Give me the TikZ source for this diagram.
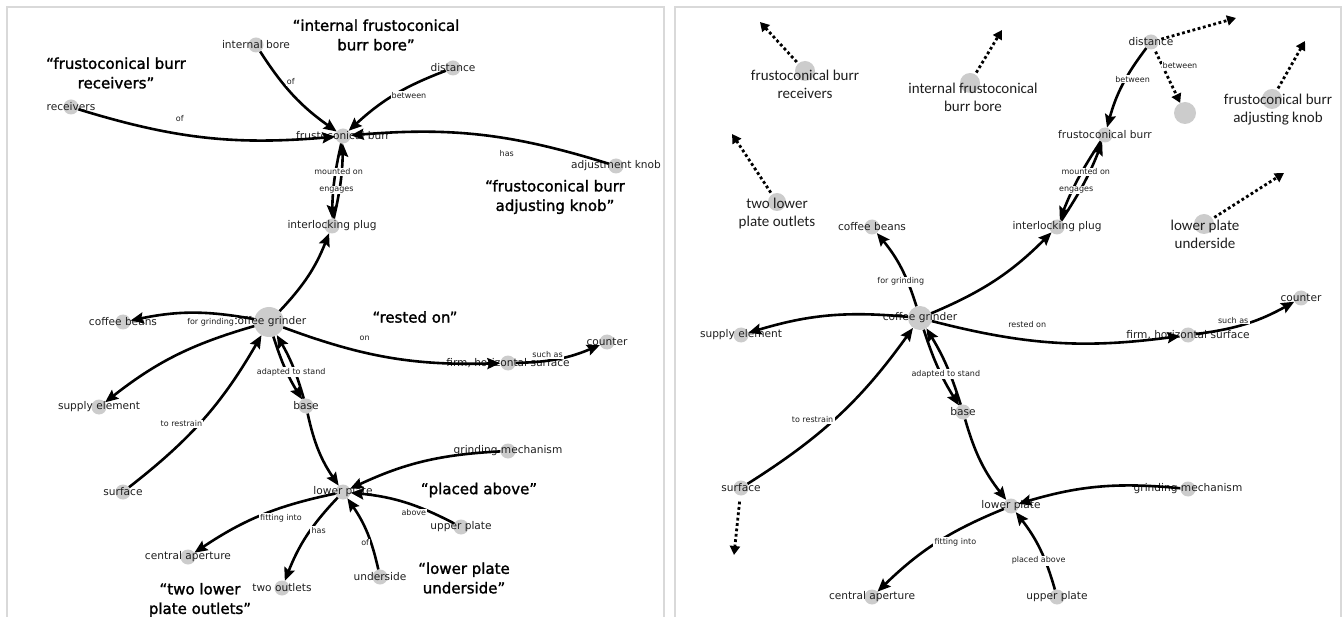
\documentclass[tikz,border=0pt]{standalone}
\usepackage{fontspec}
\setmainfont{DejaVu Sans}
\newfontfamily\carlfont{Carlito}
\newfontfamily\qfont[FakeBold=1.6]{DejaVu Sans}
\usetikzlibrary{arrows.meta,calc}
\begin{document}
\begin{tikzpicture}[x=1pt,y=-1pt,
  gdot/.style={circle,fill=gray!40,draw=none,inner sep=0pt,minimum size=#1},
  gdot/.default=15pt,
  nl/.style={font=\fontsize{10.6}{12}\selectfont,text=black!88,inner sep=0pt},
  el/.style={font=\fontsize{8}{9}\selectfont,text=black!88,fill=white,inner sep=1.2pt},
  rel/.style={line width=2.6pt,-{Stealth[length=13pt,width=11pt,inset=2pt]}},
  dotarr/.style={line width=2.8pt,dash pattern=on 2.8pt off 2.6pt,-{Triangle[length=9pt,width=10pt]}},
  qt/.style={font={\qfont\fontsize{15}{19.5}\selectfont},align=center,text=black},
  bl/.style={font={\carlfont\fontsize{15}{18}\selectfont},align=center,text=black!88},
  pan/.style={draw=gray!30,line width=1.5pt},
  bd/.style={bend right=11}
]
\useasboundingbox (0,0) rectangle (1343,617);
\fill[white] (0,0) rectangle (1343,617);
\draw[pan] (7,7) rectangle (664,640);
\draw[pan] (675,7) rectangle (1341,640);

% ---------------- left panel ----------------
\node[gdot] (ib) at (256,45) {};
\node[gdot] (rc) at (71,107) {};
\node[gdot] (fb) at (343,136) {};
\node[gdot] (ds) at (453,68) {};
\node[gdot] (ak) at (616,166) {};
\node[gdot] (pl) at (332,226) {};
\node[gdot=30pt] (cg) at (269,322) {};
\node[gdot] (cb) at (123,322) {};
\node[gdot] (se) at (99,407) {};
\node[gdot] (bs) at (306,406) {};
\node[gdot] (fh) at (508,363) {};
\node[gdot] (ct) at (607,342) {};
\node[gdot] (sf) at (123,492) {};
\node[gdot] (lp) at (343,492) {};
\node[gdot] (gm) at (508,451) {};
\node[gdot] (up) at (461,527) {};
\node[gdot] (us) at (380,577) {};
\node[gdot] (ca) at (188,557) {};
\node[gdot] (to) at (282,588) {};

\node[nl] (ib-t) at (ib) {internal bore};
\node[nl] (rc-t) at (rc) {receivers};
\node[nl] (fb-t) at (fb) {frustoconical burr};
\node[nl] (ds-t) at (ds) {distance};
\node[nl] (ak-t) at (ak) {adjustment knob};
\node[nl] (pl-t) at (pl) {interlocking plug};
\node[nl] (cg-t) at (cg) {coffee grinder};
\node[nl] (cb-t) at (cb) {coffee beans};
\node[nl] (se-t) at (se) {supply element};
\node[nl] (bs-t) at (bs) {base};
\node[nl] (fh-t) at (fh) {firm, horizontal surface};
\node[nl] (ct-t) at (ct) {counter};
\node[nl] (sf-t) at (sf) {surface};
\node[nl] (lp-t) at (lp) {lower plate};
\node[nl] (gm-t) at (gm) {grinding mechanism};
\node[nl] (up-t) at (up) {upper plate};
\node[nl] (us-t) at (us) {underside};
\node[nl] (ca-t) at (ca) {central aperture};
\node[nl] (to-t) at (to) {two outlets};

\draw[rel] (ib) to[bd] (fb);
\draw[rel] (rc) to[bd] (fb);
\draw[rel] (ds) to[bd] (fb);
\draw[rel] (ak) to[bd] (fb);
\draw[rel] (fb) to[bend right=6] (pl);
\draw[rel] (pl) to[bend right=6] (fb);
\draw[rel] (cg) to[bd] (pl);
\draw[rel] (cg) to[bd] (cb);
\draw[rel] (cg) to[bd] (se);
\draw[rel] (cg) to[bd] (fh);
\draw[rel] (fh) to[bd] (ct);
\draw[rel] (cg) to[bend right=7] (bs);
\draw[rel] (bs) to[bend right=7] (cg);
\draw[rel] (sf) to[bd] (cg);
\draw[rel] (bs) to[bd] (lp);
\draw[rel] (gm) to[bd] (lp);
\draw[rel] (up) to[bd] (lp);
\draw[rel] (us) to[bd] (lp);
\draw[rel] (lp) to[bd] (ca);
\draw[rel] (lp) to[bd] (to);

\node[el] (l1) at ($(ib)!0.4!(fb)$) {of};
\node[el] (l2) at ($(rc)!0.4!(fb)$) {of};
\node[el] (l3) at ($(ds)!0.4!(fb)$) {between};
\node[el] (l4) at ($(ak)!0.4!(fb)$) {has};
\node[el] (l5) at ($(fb)!0.4!(pl)$) {mounted on};
\node[el] (l6) at ($(pl)!0.4!(fb)$) {engages};
\node[el] (l7) at ($(cg)!0.4!(cb)$) {for grinding};
\node[el] (l8) at ($(cg)!0.4!(fh)$) {on};
\node[el] (l9) at ($(fh)!0.4!(ct)$) {such as};
\node[el] (l10) at ($(bs)!0.4!(cg)$) {adapted to stand};
\node[el] (l11) at ($(sf)!0.4!(cg)$) {to restrain};
\node[el] (l12) at ($(lp)!0.4!(ca)$) {fitting into};
\node[el] (l13) at ($(lp)!0.4!(to)$) {has};
\node[el] (l14) at ($(up)!0.4!(lp)$) {above};
\node[el] (l15) at ($(us)!0.4!(lp)$) {of};

\node[qt] (q1) at (116,73) {“frustoconical burr\\receivers”};
\node[qt] (q2) at (376,35) {“internal frustoconical\\burr bore”};
\node[qt] (q3) at (555,197) {“frustoconical burr\\adjusting knob”};
\node[qt] (q4) at (415,317) {“rested on”};
\node[qt] (q5) at (479,490) {“placed above”};
\node[qt] (q6) at (464,578) {“lower plate\\underside”};
\node[qt] (q7) at (200,600) {“two lower\\plate outlets”};

% ---------------- right panel ----------------
\node[gdot=20pt] (rrec) at (805,71) {};
\node[gdot=20pt] (rint) at (970,83) {};
\node[gdot=18pt] (rtwo) at (777,202) {};
\node[gdot] (rds) at (1151,42) {};
\node[gdot=22pt] (rblank) at (1185,113) {};
\node[gdot] (rfb) at (1105,135) {};
\node[gdot=20pt] (rak) at (1272,99) {};
\node[gdot] (rpl) at (1057,227) {};
\node[gdot=20pt] (rlu) at (1204,224) {};
\node[gdot] (rcb) at (872,227) {};
\node[gdot=24pt] (rcg) at (920,318) {};
\node[gdot] (rse) at (741,335) {};
\node[gdot] (rfh) at (1188,335) {};
\node[gdot] (rct) at (1301,298) {};
\node[gdot] (rbs) at (963,412) {};
\node[gdot] (rsf) at (741,488) {};
\node[gdot] (rlp) at (1011,506) {};
\node[gdot] (rgm) at (1188,489) {};
\node[gdot] (rca) at (872,597) {};
\node[gdot] (rup) at (1057,597) {};

\node[bl] (rrec-t) at (805,84) {frustoconical burr\\receivers};
\node[bl] (rint-t) at (973,97) {internal frustoconical\\burr bore};
\node[bl] (rtwo-t) at (777,214) {two lower\\plate outlets};
\node[bl] (rak-t) at (1278,110) {frustoconical burr\\adjusting knob};
\node[bl] (rlu-t) at (1205,234) {lower plate\\underside};

\node[nl] (rds-t) at (rds) {distance};
\node[nl] (rfb-t) at (rfb) {frustoconical burr};
\node[nl] (rpl-t) at (rpl) {interlocking plug};
\node[nl] (rcb-t) at (rcb) {coffee beans};
\node[nl] (rcg-t) at (rcg) {coffee grinder};
\node[nl] (rse-t) at (rse) {supply element};
\node[nl] (rfh-t) at (rfh) {firm, horizontal surface};
\node[nl] (rct-t) at (rct) {counter};
\node[nl] (rbs-t) at (rbs) {base};
\node[nl] (rsf-t) at (rsf) {surface};
\node[nl] (rlp-t) at (rlp) {lower plate};
\node[nl] (rgm-t) at (rgm) {grinding mechanism};
\node[nl] (rca-t) at (rca) {central aperture};
\node[nl] (rup-t) at (rup) {upper plate};

\coordinate (d1) at (760,22);
\coordinate (d2) at (1002,30);
\coordinate (d3) at (732,134);
\coordinate (d4) at (1236,18);
\coordinate (d5) at (1305,41);
\coordinate (d6) at (1284,173);
\coordinate (d7) at (734,555);

\draw[dotarr,shorten <=2pt] (rrec) -- (d1);
\draw[dotarr,shorten <=2pt] (rint) -- (d2);
\draw[dotarr,shorten <=2pt] (rtwo) -- (d3);
\draw[dotarr,shorten <=3pt] (rds) -- (d4);
\draw[dotarr,shorten <=2pt] (rak) -- (d5);
\draw[dotarr,shorten <=2pt] (rlu) -- (d6);
\draw[dotarr,shorten <=6pt] (rsf) -- (d7);
\draw[dotarr,shorten <=3pt] (rds) -- (rblank);

\draw[rel] (rds) to[bd] (rfb);
\draw[rel] (rfb) to[bend right=6] (rpl);
\draw[rel] (rpl) to[bend right=6] (rfb);
\draw[rel] (rcg) to[bd] (rpl);
\draw[rel] (rcg) to[bd] (rcb);
\draw[rel] (rcg) to[bd] (rse);
\draw[rel] (rcg) to[bd] (rfh);
\draw[rel] (rfh) to[bd] (rct);
\draw[rel] (rcg) to[bend right=7] (rbs);
\draw[rel] (rbs) to[bend right=7] (rcg);
\draw[rel] (rsf) to[bd] (rcg);
\draw[rel] (rbs) to[bd] (rlp);
\draw[rel] (rgm) to[bd] (rlp);
\draw[rel] (rlp) to[bd] (rca);
\draw[rel] (rup) to[bd] (rlp);

\node[el] (r1) at ($(rds)!0.4!(rfb)$) {between};
\node[el] (r2) at (1180,66) {between};
\node[el] (r3) at ($(rfb)!0.4!(rpl)$) {mounted on};
\node[el] (r4) at ($(rpl)!0.4!(rfb)$) {engages};
\node[el] (r5) at ($(rcg)!0.4!(rcb)$) {for grinding};
\node[el] (r6) at ($(rcg)!0.4!(rfh)$) {rested on};
\node[el] (r7) at ($(rfh)!0.4!(rct)$) {such as};
\node[el] (r8) at ($(rbs)!0.4!(rcg)$) {adapted to stand};
\node[el] (r9) at ($(rsf)!0.4!(rcg)$) {to restrain};
\node[el] (r10) at ($(rlp)!0.4!(rca)$) {fitting into};
\node[el] (r11) at ($(rup)!0.4!(rlp)$) {placed above};
\end{tikzpicture}
\end{document}
